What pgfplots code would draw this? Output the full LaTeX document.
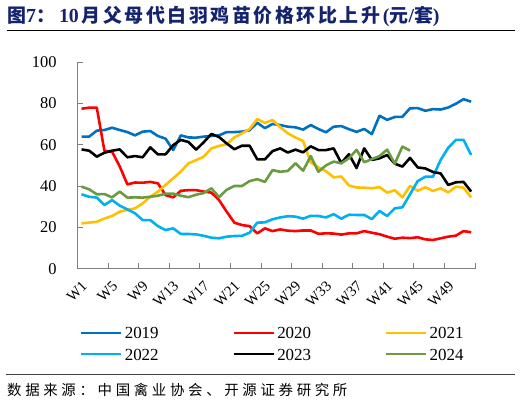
\documentclass[border=0pt]{standalone}
\usepackage{pgfplots}
\pgfplotsset{compat=1.18}
\usepackage{pgfplotstable}
\usepackage{fontspec}
\setmainfont{Liberation Serif}
\newfontfamily\cjk{Noto Sans CJK SC}
\definecolor{c2019}{RGB}{0,112,192}
\definecolor{c2020}{RGB}{255,0,0}
\definecolor{c2021}{RGB}{255,192,0}
\definecolor{c2022}{RGB}{0,176,240}
\definecolor{c2023}{RGB}{0,0,0}
\definecolor{c2024}{RGB}{106,155,64}
\definecolor{axgray}{RGB}{128,128,128}
\definecolor{titleblue}{RGB}{20,35,110}
\makeatletter
\newcommand\spaced[2]{\@tfor\c:=#2\do{\makebox[#1][l]{\c}}}
\makeatother

\pgfplotstableread{
w a b c d e f
1 63.9 77.4 21.9 36.0 57.7 39.7
2 63.9 77.9 22.3 34.8 57.1 38.4
3 66.8 77.9 22.7 34.4 54.2 36.0
4 67.1 57.0 24.3 30.8 56.1 36.1
5 68.2 56.6 25.5 33.2 57.1 34.5
6 67.1 49.5 27.6 30.5 57.7 37.3
7 66.1 40.8 28.4 28.7 53.9 34.4
8 64.5 41.7 29.2 26.8 54.5 34.5
9 66.3 41.6 31.6 23.5 53.9 34.4
10 66.6 42.0 34.8 23.5 58.7 34.8
11 64.2 41.3 37.3 20.6 55.3 35.3
12 62.9 35.6 40.5 18.7 55.3 36.3
13 57.4 34.5 43.7 19.5 59.8 36.3
14 64.5 37.7 47.0 16.8 62.3 35.3
15 63.5 38.0 51.0 16.8 61.3 34.6
16 63.4 38.0 52.5 16.6 57.6 35.8
17 63.9 37.3 54.2 15.9 61.2 36.6
18 64.2 36.8 58.2 15.0 65.2 38.9
19 64.5 33.2 59.4 14.7 63.7 34.6
20 66.1 27.6 60.2 15.5 60.6 38.2
21 66.1 22.3 63.5 15.8 57.8 40.0
22 66.3 21.1 65.5 15.9 59.5 40.0
23 67.0 20.6 67.6 17.4 59.5 42.4
24 70.6 17.1 72.4 22.3 52.9 43.3
25 68.0 19.5 70.5 22.4 52.9 42.0
26 70.0 18.2 71.9 23.9 56.9 47.7
27 69.5 19.0 68.5 24.8 58.2 46.9
28 68.7 18.4 65.5 25.4 56.2 47.3
29 68.4 18.2 63.5 25.2 57.6 51.0
30 67.3 18.5 61.8 24.2 56.3 47.4
31 69.5 18.5 51.4 25.6 59.2 54.5
32 67.6 16.9 49.0 25.5 57.4 46.9
33 66.0 17.1 47.2 24.8 57.4 50.0
34 68.7 17.0 44.2 26.4 58.2 51.8
35 69.0 16.5 44.6 24.2 51.1 51.0
36 67.5 17.1 40.3 26.1 55.4 53.4
37 66.2 17.1 39.3 26.0 48.7 57.5
38 67.6 18.2 39.2 26.0 58.2 51.5
39 65.1 17.4 38.9 24.0 52.6 53.0
40 74.0 16.7 39.5 27.9 53.4 54.5
41 72.0 15.5 36.8 25.5 55.0 57.6
42 73.4 14.5 38.0 29.2 50.8 50.8
43 73.5 15.0 34.5 29.7 49.4 59.1
44 77.6 14.8 40.0 36.0 53.6 57.1
45 77.7 15.2 37.7 42.4 49.0 nan
46 76.4 14.2 39.4 44.5 48.5 nan
47 77.2 13.9 37.6 44.5 46.8 nan
48 77.0 14.7 38.9 52.6 46.1 nan
49 78.0 15.5 36.9 58.5 40.5 nan
50 79.8 16.0 39.7 62.3 41.8 nan
51 82.0 18.2 39.2 62.3 42.0 nan
52 80.8 17.6 34.5 55.0 37.3 nan
}\data

\begin{document}
\begin{tikzpicture}
\useasboundingbox (0,0) rectangle (522bp,404bp);
\begin{axis}[
  at={(77.7bp,135.3bp)}, anchor=south west,
  scale only axis, width=397.3bp, height=206.7bp,
  xmin=0.5, xmax=52.5, ymin=0, ymax=100,
  axis x line*=bottom, axis y line*=left,
  axis line style={draw=axgray, line width=0.9pt},
  tick align=inside, major tick length=5.5bp,
  tick style={draw=axgray, line width=0.9pt},
  ytick={0,20,40,60,80,100},
  xtick={0.5,4.5,8.5,12.5,16.5,20.5,24.5,28.5,32.5,36.5,40.5,44.5,48.5,52.5},
  xticklabels={},
  extra x ticks={1,5,9,13,17,21,25,29,33,37,41,45,49},
  extra x tick labels={W1,W5,W9,W13,W17,W21,W25,W29,W33,W37,W41,W45,W49},
  extra x tick style={major tick length=0pt},
  /pgf/number format/assume math mode=true,
  yticklabel style={font=\fontsize{16.5}{19}\selectfont, anchor=east, inner sep=0pt, xshift=-21bp},
  xticklabel style={font=\fontsize{15}{18}\selectfont, inner sep=0pt, yshift=-15bp, xshift=3bp, rotate=45, anchor=east},
  unbounded coords=jump,
  legend columns=3,
  legend cell align=left,
  legend image code/.code={\draw[#1] (0bp,0bp) -- (40bp,0bp);},
  legend style={at={(0.0058,-0.261)}, anchor=north west, draw=none, fill=none, inner sep=0pt,
    font=\fontsize{17}{20}\selectfont,
    /tikz/every even column/.append style={column sep=72bp},
    row sep=1.3bp,
    nodes={inner xsep=2bp, inner ysep=4bp, text height=12bp, text depth=0bp}},
  every axis plot/.append style={line width=2.6pt, line join=round},
]
\addplot[c2019] table[x=w,y=a]{\data};
\addlegendentry{2019}
\addplot[c2020] table[x=w,y=b]{\data};
\addlegendentry{2020}
\addplot[c2021] table[x=w,y=c]{\data};
\addlegendentry{2021}
\addplot[c2022] table[x=w,y=d]{\data};
\addlegendentry{2022}
\addplot[c2023] table[x=w,y=e]{\data};
\addlegendentry{2023}
\addplot[c2024] table[x=w,y=f]{\data};
\addlegendentry{2024}
\end{axis}
\node[anchor=west, inner sep=0pt, text=titleblue] at (7bp,388bp) {%
  {\fontsize{19}{22}\selectfont\cjk\bfseries 图}{\fontsize{20}{22}\selectfont\bfseries 7}{\fontsize{19}{22}\selectfont\cjk\bfseries ：}\hspace{4bp}{\fontsize{20}{22}\selectfont\bfseries 10}\hspace{3bp}{\fontsize{19}{22}\selectfont\cjk\bfseries\spaced{21.5bp}{月父母代白羽鸡苗价格环比上升}}{\fontsize{20}{22}\selectfont\bfseries (}{\fontsize{19}{22}\selectfont\cjk\bfseries 元}{\fontsize{20}{22}\selectfont\bfseries /}{\fontsize{19}{22}\selectfont\cjk\bfseries 套}{\fontsize{20}{22}\selectfont\bfseries )}};
\draw[line width=0.9pt, black] (7bp,373.5bp) -- (515bp,373.5bp);
\draw[line width=0.9pt, black!75] (6bp,30bp) -- (515bp,30bp);
\node[anchor=west, inner sep=0pt] at (7bp,14bp) {\fontsize{14.5}{17}\selectfont\cjk\spaced{18.1bp}{数据来源：中国禽业协会、开源证券研究所}};
\end{tikzpicture}
\end{document}
